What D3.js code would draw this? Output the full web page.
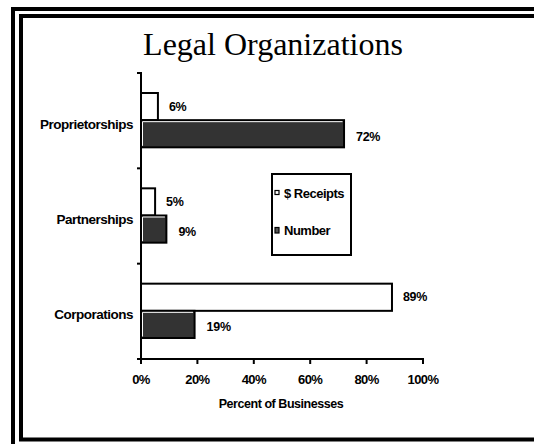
<!DOCTYPE html>
<html>
<head>
<meta charset="utf-8">
<script src="https://cdn.jsdelivr.net/npm/d3@7"></script>
<style>
  html, body { margin: 0; padding: 0; background: #fff; overflow: hidden; }
  svg { display: block; }
  .lbl { font-family: "Liberation Sans", Arial, sans-serif; font-weight: bold; fill: #000; }
</style>
</head>
<body>
<svg width="534" height="444"></svg>
<script>
// data
const categories = ['Proprietorships', 'Partnerships', 'Corporations'];
const receipts = [6, 5, 89];
const number = [72, 9, 19];
const xTicks = [0, 20, 40, 60, 80, 100];
const seriesNames = ['$ Receipts', 'Number'];

const svg = d3.select('svg');

// double frame, cut off on the right (outer one also at the bottom)
svg.append('path')
    .attr('d', 'M13,450V9H540')
    .attr('fill', 'none').attr('stroke', '#000').attr('stroke-width', 4);
svg.append('path')
    .attr('d', 'M540,439.5H21V16H540')
    .attr('fill', 'none').attr('stroke', '#000').attr('stroke-width', 4);

svg.append('text')
    .attr('x', 273).attr('y', 55)
    .attr('text-anchor', 'middle')
    .style('font-family', '"Liberation Serif", "Times New Roman", serif')
    .style('font-size', '32px')
    .text('Legal Organizations');

const x = d3.scaleLinear().domain([0, 100]).range([141, 423]);
const y = d3.scaleBand().domain(categories).range([73, 359]);
const inner = d3.scaleBand().domain(seriesNames)
    .range([20, y.bandwidth() - 21]);

const rows = categories.map((c, i) => ({ cat: c, receipts: receipts[i], number: number[i] }));

const g = svg.append('g');

rows.forEach(d => {
    const y0 = y(d.cat);
    // receipts bar
    const yr = y0 + inner('$ Receipts');
    g.append('rect')
        .attr('x', x(0)).attr('y', yr)
        .attr('width', x(d.receipts) - x(0)).attr('height', inner.bandwidth())
        .attr('fill', '#fff').attr('stroke', '#000').attr('stroke-width', 2);
    g.append('text').attr('class', 'lbl')
        .attr('x', x(d.receipts) + 11).attr('y', yr + inner.bandwidth() / 2 + 4)
        .style('font-size', '12.5px').style('letter-spacing', '-0.3px')
        .text(d.receipts + '%');

    // number bar
    const yn = y0 + inner('Number');
    const w = x(d.number) - x(0);
    g.append('rect')
        .attr('x', x(0)).attr('y', yn)
        .attr('width', w).attr('height', inner.bandwidth())
        .attr('fill', '#333').attr('stroke', '#000').attr('stroke-width', 2);
    g.append('path')
        .attr('d', `M${x(0) + 1.5},${yn + inner.bandwidth() - 1.5}V${yn + 1.5}H${x(0) + w - 1.5}`)
        .attr('fill', 'none').attr('stroke', '#fff').attr('stroke-width', 1);
    g.append('text').attr('class', 'lbl')
        .attr('x', x(d.number) + 12).attr('y', yn + inner.bandwidth() / 2 + 7)
        .style('font-size', '12.5px').style('letter-spacing', '-0.3px')
        .text(d.number + '%');

    // category label
    g.append('text').attr('class', 'lbl')
        .attr('x', 133).attr('y', y0 + y.bandwidth() / 2 + 8)
        .attr('text-anchor', 'end')
        .style('font-size', '13.5px').style('letter-spacing', '-0.5px')
        .text(d.cat);
});

// y axis
g.append('line')
    .attr('x1', x(0)).attr('x2', x(0)).attr('y1', 72).attr('y2', 360)
    .attr('stroke', '#000').attr('stroke-width', 2);
const bounds = categories.map(c => y(c)).concat([y.range()[1]]);
g.selectAll('.ytick').data(bounds).enter().append('line')
    .attr('x1', x(0) - 4).attr('x2', x(0)).attr('y1', d => d).attr('y2', d => d)
    .attr('stroke', '#000').attr('stroke-width', 2);

// x axis
g.append('line')
    .attr('x1', x(0) - 4).attr('x2', x(100) + 1).attr('y1', 359).attr('y2', 359)
    .attr('stroke', '#000').attr('stroke-width', 2);
g.selectAll('.xtick').data(xTicks).enter().append('line')
    .attr('x1', d => x(d)).attr('x2', d => x(d)).attr('y1', 359).attr('y2', 364)
    .attr('stroke', '#000').attr('stroke-width', 2);
g.selectAll('.xlbl').data(xTicks).enter().append('text').attr('class', 'lbl')
    .attr('x', d => x(d)).attr('y', 384)
    .attr('text-anchor', 'middle')
    .style('font-size', '13px').style('letter-spacing', '-0.6px')
    .text(d => d + '%');

g.append('text').attr('class', 'lbl')
    .attr('x', 281).attr('y', 408)
    .attr('text-anchor', 'middle')
    .style('font-size', '12.5px').style('letter-spacing', '-0.45px')
    .text('Percent of Businesses');

// legend
const lg = svg.append('g').attr('transform', 'translate(272,174)');
lg.append('rect')
    .attr('width', 79).attr('height', 81)
    .attr('fill', '#fff').attr('stroke', '#000').attr('stroke-width', 2);
const items = lg.selectAll('.item').data(seriesNames).enter().append('g')
    .attr('transform', (d, i) => `translate(0,${19 + i * 37})`);
items.append('rect')
    .attr('x', 3).attr('y', -2.5).attr('width', 4).attr('height', (d, i) => i === 0 ? 4 : 5.5)
    .attr('fill', (d, i) => i === 0 ? '#fff' : '#555')
    .attr('stroke', '#000').attr('stroke-width', 1.2);
items.append('text').attr('class', 'lbl')
    .attr('x', 12).attr('y', 4.5)
    .style('font-size', '13px').style('letter-spacing', '-0.5px')
    .text(d => d);
</script>
</body>
</html>
